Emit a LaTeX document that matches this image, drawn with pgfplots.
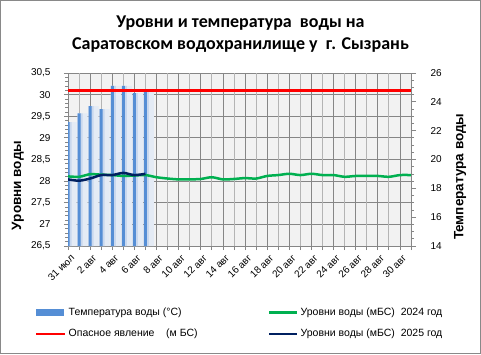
\documentclass[border=0pt]{standalone}
\usepackage{pgfplots}
\pgfplotsset{compat=1.18}
\usepackage{fontspec}
\setmainfont{Liberation Sans}
\newfontfamily\titlefont{Carlito}
\definecolor{barblue}{HTML}{558ED5}
\definecolor{glowA}{HTML}{E4EBF5}
\definecolor{glowB}{HTML}{C9D8EE}
\definecolor{lgreen}{HTML}{00B050}
\definecolor{lred}{HTML}{FF0000}
\definecolor{lnavy}{HTML}{002060}
\definecolor{bggray}{HTML}{F2F2F2}
\definecolor{gridgray}{HTML}{868686}
\definecolor{gridlight}{HTML}{B4B4B4}
\definecolor{framegray}{HTML}{898989}

\pgfplotsset{
  common/.style={
    width=343pt, height=173pt, scale only axis,
    at={(68pt,108pt)}, anchor=south west,
    xmin=0, xmax=31,
  }
}

\begin{document}
\begin{tikzpicture}[x=1pt,y=1pt]
\useasboundingbox (0,0) rectangle (481,354);
\draw[color=framegray, line width=1pt] (0.5,0.5) rectangle (480.5,353.5);
\node[font=\titlefont\bfseries\fontsize{18}{20}\selectfont] at (240.5,331) {Уровни и температура\ \ воды на};
\node[font=\titlefont\bfseries\fontsize{18}{20}\selectfont] at (240.5,309) {Саратовском водохранилище у\ \ г. Сызрань};

% axis 1: grid, left axis, x labels
\begin{axis}[common,
  ymin=26.5, ymax=30.5,
  ytick={26.5,27,27.5,28,28.5,29,29.5,30,30.5},
  minor y tick num=4,
  xtick={0,2,...,30},
  xticklabels={31 июл,2 авг,4 авг,6 авг,8 авг,10 авг,12 авг,14 авг,16 авг,18 авг,20 авг,22 авг,24 авг,26 авг,28 авг,30 авг},
  extra x ticks={1,3,...,31},
  extra x tick labels={},
  extra x tick style={major grid style={color=gridlight, line width=0.8pt}},
  xmajorgrids, ymajorgrids,
  major grid style={color=gridgray, line width=0.8pt},
  axis background/.style={fill=bggray},
  axis line style={color=gridgray, line width=0.8pt},
  tick style={color=gridgray, line width=0.8pt},
  tick align=outside, tick pos=left,
  major tick length=4pt, minor tick length=3pt,
  x tick label style={rotate=45, anchor=north east, font=\fontsize{10}{11}\selectfont, inner sep=1pt, yshift=-3pt},
  y tick label style={font=\fontsize{10}{11}\selectfont, xshift=-10pt},
  yticklabel={\pgfmathprintnumber[fixed, use comma, precision=1]{\tick}},
  /pgf/number format/assume math mode=true,
  ylabel={Уровни воды},
  every axis y label/.style={at={(axis description cs:-0.146,0.35)}, rotate=90, anchor=center, font=\bfseries\fontsize{13.5}{15}\selectfont},
]
\end{axis}

% axis 2: temperature bars, right axis
\begin{axis}[common,
  ymin=14, ymax=26,
  ytick={14,16,...,26},
  minor y tick num=3,
  axis y line*=right, axis x line=none,
  axis line style={color=gridgray, line width=0.8pt},
  tick style={color=gridgray, line width=0.8pt},
  tick align=outside,
  major tick length=5pt, minor tick length=3pt,
  y tick label style={font=\fontsize{10}{11}\selectfont, xshift=11pt},
  /pgf/number format/assume math mode=true,
  ylabel={Температура воды},
  every axis y label/.style={at={(axis description cs:1.143,0.40)}, rotate=90, anchor=center, font=\bfseries\fontsize{13.5}{15}\selectfont},
  legend style={at={(axis description cs:-0.0962,-0.358)}, anchor=north west, draw=none, fill=none, inner sep=0pt, row sep=12pt, column sep=2pt, font=\fontsize{10.5}{12}\selectfont, nodes={inner sep=0pt}},
  legend cell align=left,
]
\addplot[ybar, bar width=10pt, bar shift=3.5pt, fill=glowA, draw=none, forget plot] coordinates {(0,22.6) (1,23.2) (2,23.7) (3,23.5) (4,25.1) (5,25.1) (6,24.6) (7,24.8)};
\addplot[ybar, bar width=5pt, bar shift=1pt, fill=glowB, draw=none, forget plot] coordinates {(0,22.6) (1,23.2) (2,23.7) (3,23.5) (4,25.1) (5,25.1) (6,24.6) (7,24.8)};
\addplot[ybar, bar width=3pt, bar shift=0pt, fill=barblue, draw=none, forget plot] coordinates {(0,22.6) (1,23.2) (2,23.7) (3,23.5) (4,25.1) (5,25.1) (6,24.6) (7,24.8)};
\addlegendimage{legend image code/.code={\fill[barblue] (0pt,-3pt) rectangle (27pt,3pt);}}
\addlegendentry{Температура воды (°C)}
\addlegendimage{legend image code/.code={\draw[lred, line width=2.5pt] (0pt,0pt) -- (29pt,0pt);}}
\addlegendentry{Опасное явление\ \ \ \ (м БС)}
\end{axis}

% axis 3: level lines
\begin{axis}[common,
  ymin=26.5, ymax=30.5,
  hide axis,
  legend style={at={(axis description cs:0.583,-0.358)}, anchor=north west, draw=none, fill=none, inner sep=0pt, row sep=12pt, column sep=2pt, font=\fontsize{10.5}{12}\selectfont, nodes={inner sep=0pt}},
  legend cell align=left,
]
\addplot[lred, line width=2.5pt, forget plot] coordinates {(0,30.1) (31,30.1)};
\addplot[lgreen, line width=2.5pt, smooth, forget plot] coordinates {
(0,28.11) (1,28.10) (2,28.16) (3,28.15) (4,28.14) (5,28.12) (6,28.13) (7,28.14)
(8,28.09) (9,28.06) (10,28.04) (11,28.04) (12,28.05) (13,28.09) (14,28.04) (15,28.05)
(16,28.07) (17,28.06) (18,28.12) (19,28.14) (20,28.17) (21,28.14) (22,28.17) (23,28.14)
(24,28.14) (25,28.10) (26,28.12) (27,28.12) (28,28.12) (29,28.10) (30,28.14) (31,28.14)};
\addplot[lnavy, line width=2.5pt, smooth, forget plot] coordinates {
(0,28.04) (1,28.01) (2,28.06) (3,28.14) (4,28.14) (5,28.19) (6,28.14) (7,28.17)};
\addlegendimage{legend image code/.code={\draw[lgreen, line width=2.5pt] (0pt,0pt) -- (28pt,0pt);}}
\addlegendentry{Уровни воды (мБС)\ \ 2024 год}
\addlegendimage{legend image code/.code={\draw[lnavy, line width=2.5pt] (0pt,0pt) -- (28pt,0pt);}}
\addlegendentry{Уровни воды (мБС)\ \ 2025 год}
\end{axis}
\end{tikzpicture}
\end{document}
